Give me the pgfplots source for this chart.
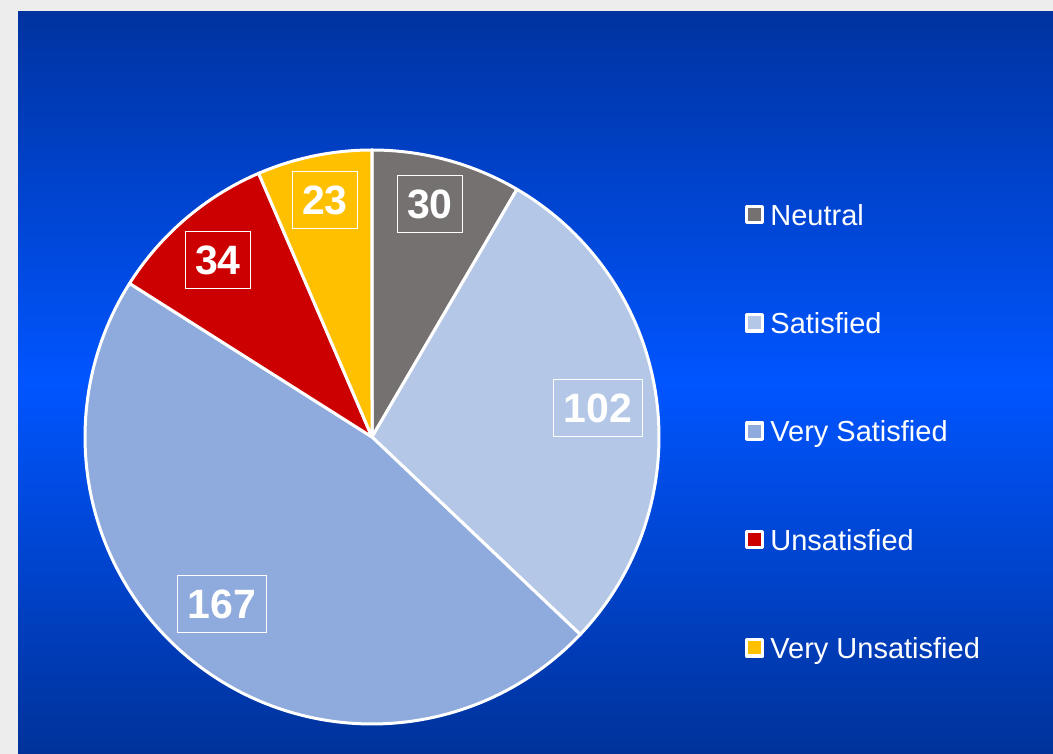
\documentclass[border=0pt]{standalone}
\usepackage{pgfplots}
\pgfplotsset{compat=1.18}
\usepackage{fontspec}
\setmainfont{Liberation Sans}
\definecolor{cNeutral}{HTML}{767171}
\definecolor{cSat}{HTML}{B4C7E7}
\definecolor{cVSat}{HTML}{8FAADC}
\definecolor{cUnsat}{HTML}{CC0000}
\definecolor{cVUnsat}{HTML}{FFC000}
\definecolor{bgDark}{HTML}{0033A0}
\definecolor{bgBot}{HTML}{00329A}
\definecolor{bgMid}{HTML}{0055FF}
% data
\def\vNeutral{30}
\def\vSat{102}
\def\vVSat{167}
\def\vUnsat{34}
\def\vVUnsat{23}
\pgfmathsetmacro\tot{\vNeutral+\vSat+\vVSat+\vUnsat+\vVUnsat}
\pgfmathsetmacro\aA{0}
\pgfmathsetmacro\aB{\aA+\vNeutral/\tot*360}
\pgfmathsetmacro\aC{\aB+\vSat/\tot*360}
\pgfmathsetmacro\aD{\aC+\vVSat/\tot*360}
\pgfmathsetmacro\aE{\aD+\vUnsat/\tot*360}
\pgfmathsetmacro\aF{\aE+\vVUnsat/\tot*360}
\tikzset{
  slice/.style={draw=white, line width=3pt, line join=round},
  lab/.style={draw=white, line width=1.3pt, text=white,
    font=\bfseries\fontsize{41}{41}\selectfont,
    inner xsep=10pt, inner ysep=13.5pt, text height=30pt, text depth=0pt},
}
\begin{document}
\begin{tikzpicture}
\fill[gray!14] (0pt,0pt) rectangle (1053pt,754pt);
\shade[top color=bgDark, bottom color=bgBot, middle color=bgMid] (18pt,0pt) rectangle (1053pt,742pt);
\begin{axis}[
  at={(0pt,0pt)}, anchor=origin,
  scale only axis, width=1053pt, height=754pt,
  xmin=0, xmax=1053, ymin=0, ymax=754,
  hide axis, clip=true,
  samples=120,
  legend image code/.code={\draw[#1,line width=3.2pt] (1.6pt,-4.6pt) rectangle (17.6pt,11.8pt);},
  legend cell align=left,
  legend style={at={(axis cs:745,549.5)}, anchor=north west, draw=none, fill=none,
    inner sep=0pt, text=white, font=\fontsize{29}{32}\selectfont,
    row sep=81.95pt, column sep=6pt,
    nodes={inner sep=0pt, text height=20pt, text depth=6pt}},
]
\addplot[slice, fill=cNeutral, domain=\aA:\aB] ({372+287*sin(x)},{317+287*cos(x)}) -- (axis cs:372,317) -- cycle;
\addlegendentry{Neutral}
\addplot[slice, fill=cSat, domain=\aB:\aC] ({372+287*sin(x)},{317+287*cos(x)}) -- (axis cs:372,317) -- cycle;
\addlegendentry{Satisfied}
\addplot[slice, fill=cVSat, domain=\aC:\aD] ({372+287*sin(x)},{317+287*cos(x)}) -- (axis cs:372,317) -- cycle;
\addlegendentry{Very Satisfied}
\addplot[slice, fill=cUnsat, domain=\aD:\aE] ({372+287*sin(x)},{317+287*cos(x)}) -- (axis cs:372,317) -- cycle;
\addlegendentry{Unsatisfied}
\addplot[slice, fill=cVUnsat, domain=\aE:\aF] ({372+287*sin(x)},{317+287*cos(x)}) -- (axis cs:372,317) -- cycle;
\addlegendentry{Very Unsatisfied}

\node[lab] at (axis cs:430,550) {30};
\node[lab] at (axis cs:598,346) {102};
\node[lab] at (axis cs:222,150) {167};
\node[lab] at (axis cs:218,494) {34};
\node[lab] at (axis cs:325,554) {23};
\end{axis}
\end{tikzpicture}
\end{document}
